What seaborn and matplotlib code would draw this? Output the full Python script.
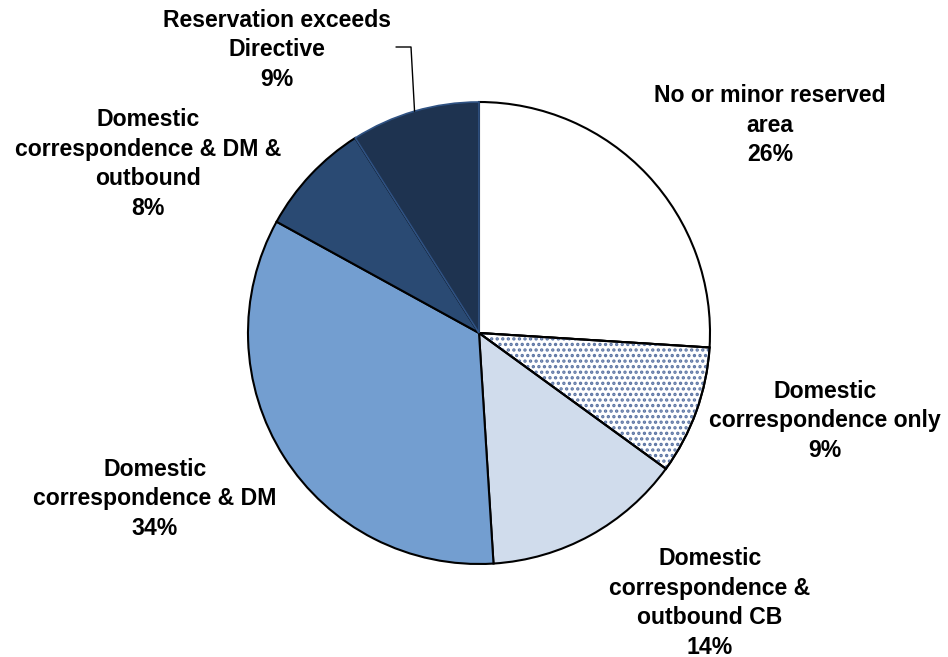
import matplotlib
matplotlib.use("Agg")
import matplotlib.pyplot as plt
import seaborn as sns
import numpy as np
from matplotlib.patches import Wedge

# Shares of postal operators by scope of the reserved area (%)
categories = [
    "No or minor reserved\narea",
    "Domestic\ncorrespondence only",
    "Domestic\ncorrespondence &\noutbound CB",
    "Domestic\ncorrespondence & DM",
    "Domestic\ncorrespondence & DM &\noutbound",
    "Reservation exceeds\nDirective",
]
shares = [26, 9, 14, 34, 8, 9]
slice_colors = ["#ffffff", "#ffffff", "#d0dcec", "#739ed0", "#2a4a73", "#1e3350"]

# label anchor points (pixel layout of the 948x657 canvas, y measured from top)
label_x = [770, 825, 710, 155, 148, 277]
label_y = [125, 421, 603, 499, 164, 50]

sns.set_theme(style="white")
plt.rcParams["font.family"] = ["Liberation Sans", "DejaVu Sans"]
plt.rcParams["hatch.linewidth"] = 1.6

W, H = 948, 657
fig = plt.figure(figsize=(W / 100, H / 100), dpi=100)
ax = fig.add_axes([0, 0, 1, 1])

cx, cy, r = 479, H - 333, 231
wedges, _ = ax.pie(
    shares,
    colors=slice_colors,
    startangle=90,
    counterclock=False,
    center=(cx, cy),
    radius=r,
    frame=True,
    wedgeprops=dict(edgecolor="black", linewidth=1.5),
)
ax.set_axis_off()
ax.set_xlim(0, W)
ax.set_ylim(0, H)

# dotted texture on the "correspondence only" slice
dw = wedges[1]
ax.add_patch(Wedge((cx, cy), r, dw.theta1, dw.theta2, facecolor="none",
                   edgecolor="#5b74a3", linewidth=0, hatch="...", zorder=dw.get_zorder() + 0.1))
ax.add_patch(Wedge((cx, cy), r, dw.theta1, dw.theta2, facecolor="none",
                   edgecolor="black", linewidth=1.5, zorder=dw.get_zorder() + 0.2))

# darkest slice keeps a thin blue outline
wedges[-1].set_edgecolor("#2f5283")
wedges[-1].set_linewidth(1.2)
wedges[-1].set_zorder(wedges[-1].get_zorder() + 0.5)

for cat, val, x, y in zip(categories, shares, label_x, label_y):
    ax.text(x, H - y, f"{cat}\n{val}%", ha="center", va="center",
            fontsize=16.6, fontweight="bold", color="black", linespacing=1.36)

# leader line from the last label to its slice
lw = wedges[-1]
mid = np.deg2rad((lw.theta1 + lw.theta2) / 2)
ex, ey = cx + r * np.cos(mid), cy + r * np.sin(mid)
ax.plot([396, 411, ex], [H - 47, H - 47, ey], color="black", linewidth=1.0, zorder=5)

fig.savefig("out.png", dpi=100, facecolor="white")
